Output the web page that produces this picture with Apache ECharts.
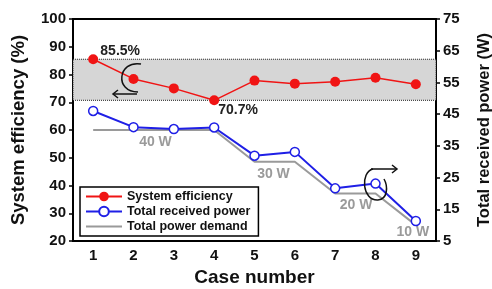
<!DOCTYPE html>
<html>
<head>
<meta charset="utf-8">
<style>
  html, body { margin: 0; padding: 0; background: #fff; }
  #chart { width: 492px; height: 289px; }
</style>
<script src="https://cdn.jsdelivr.net/npm/echarts@6/dist/echarts.min.js"></script>
</head>
<body>
<div id="chart"></div>
<script>
const cases = ['1', '2', '3', '4', '5', '6', '7', '8', '9'];
const efficiency = [85.5, 78.4, 75.0, 70.7, 77.8, 76.7, 77.4, 78.8, 76.5];
const receivedPower = [46.0, 40.9, 40.3, 40.8, 31.9, 33.1, 21.6, 23.1, 11.3];
const powerDemand = [40, 40, 40, 40, 30, 30, 20, 20, 10];
const bandLow = 70.7;
const bandHigh = 85.5;

const font = 'Liberation Sans, Arial, sans-serif';
const chart = echarts.init(document.getElementById('chart'));

const demandLabels = {
    1: { text: '40 W', offset: [22, 0] },
    4: { text: '30 W', offset: [19, 0] },
    6: { text: '20 W', offset: [21, 0] },
    8: { text: '10 W', offset: [-3, -5] }
};

const arrowStyle = { fill: null, stroke: '#111', lineWidth: 1.5 };
const tickFont = { fontSize: 15, fontWeight: 'bold', color: '#111' };

const option = {
    backgroundColor: '#ffffff',
    animation: false,
    textStyle: { fontFamily: font },
    grid: {
        left: 73,
        right: 56,
        top: 19,
        bottom: 48,
        outerBoundsMode: 'none',
        show: true,
        borderColor: '#000',
        borderWidth: 2
    },
    legend: {
        orient: 'vertical',
        left: 80,
        top: 187,
        itemGap: 2,
        itemWidth: 36,
        itemHeight: 12,
        padding: [3, 8, 3, 5],
        borderColor: '#000',
        borderWidth: 1.5,
        textStyle: { fontSize: 12.5, fontWeight: 'bold', color: '#111', fontFamily: font },
        data: [
            'System efficiency',
            'Total received power',
            { name: 'Total power demand', icon: 'path://M0,0 L36,0 L36,2 L0,2 Z' }
        ]
    },
    xAxis: {
        type: 'category',
        data: cases,
        name: 'Case number',
        nameLocation: 'middle',
        nameGap: 26,
        nameTextStyle: { fontSize: 19, fontWeight: 'bold', color: '#111' },
        axisLine: { lineStyle: { color: '#000', width: 2 } },
        axisTick: { alignWithLabel: true, length: 4, lineStyle: { color: '#000', width: 1.5 } },
        axisLabel: Object.assign({ margin: 7 }, tickFont),
        splitLine: { show: false }
    },
    yAxis: [{
        type: 'value',
        min: 20,
        max: 100,
        interval: 10,
        name: 'System efficiency (%)',
        nameLocation: 'middle',
        nameRotate: 90,
        nameGap: 45,
        nameTextStyle: { fontSize: 18.5, fontWeight: 'bold', color: '#111' },
        axisLine: { show: true, lineStyle: { color: '#000', width: 2 } },
        axisTick: { show: true, length: 4, lineStyle: { color: '#000', width: 1.5 } },
        axisLabel: Object.assign({ margin: 7 }, tickFont),
        splitLine: { show: false }
    }, {
        type: 'value',
        min: 5,
        max: 75,
        interval: 10,
        position: 'right',
        name: 'Total received power (W)',
        nameLocation: 'middle',
        nameRotate: 90,
        nameGap: 40,
        nameTextStyle: { fontSize: 16.5, fontWeight: 'bold', color: '#111' },
        axisLine: { show: true, lineStyle: { color: '#000', width: 2 } },
        axisTick: { show: true, length: 4, lineStyle: { color: '#000', width: 1.5 } },
        axisLabel: Object.assign({ margin: 7 }, tickFont),
        splitLine: { show: false }
    }],
    series: [{
        name: 'Total power demand',
        type: 'line',
        yAxisIndex: 1,
        symbol: 'circle',
        symbolSize: 0,
        z: 2,
        lineStyle: { color: '#9a9a9a', width: 2 },
        itemStyle: { color: '#9a9a9a' },
        data: powerDemand.map((v, i) => {
            const lab = demandLabels[i];
            if (!lab) return v;
            return {
                value: v,
                label: {
                    show: true,
                    position: 'bottom',
                    offset: lab.offset,
                    formatter: lab.text,
                    fontSize: 14,
                    fontWeight: 'bold',
                    color: '#9a9a9a'
                }
            };
        })
    }, {
        name: 'Total received power',
        type: 'line',
        yAxisIndex: 1,
        symbol: 'circle',
        symbolSize: 9,
        z: 3,
        lineStyle: { color: '#1f1fe6', width: 2 },
        itemStyle: { color: '#ffffff', borderColor: '#1f1fe6', borderWidth: 1.5 },
        data: receivedPower
    }, {
        name: 'System efficiency',
        type: 'line',
        yAxisIndex: 0,
        symbol: 'circle',
        symbolSize: 10,
        z: 4,
        lineStyle: { color: '#f01414', width: 1.5 },
        itemStyle: { color: '#f01414' },
        markArea: {
            silent: true,
            itemStyle: {
                color: '#d6d6d6',
                borderColor: '#222',
                borderWidth: 1,
                borderType: 'dotted'
            },
            data: [[{ yAxis: bandLow }, { yAxis: bandHigh }]]
        },
        data: efficiency.map((v, i) => {
            if (i === 0) {
                return { value: v, label: { show: true, position: 'top', offset: [27, 9], formatter: '85.5%', fontSize: 14, fontWeight: 'bold', color: '#222' } };
            }
            if (i === 3) {
                return { value: v, label: { show: true, position: 'right', offset: [-6, 10], formatter: '70.7%', fontSize: 14, fontWeight: 'bold', color: '#222' } };
            }
            return v;
        })
    }],
    graphic: [
        // left-pointing curl near the efficiency line
        { type: 'bezierCurve', z: 10, shape: { x1: 141, y1: 64, cpx1: 118, cpy1: 60, cpx2: 114, cpy2: 92, x2: 138, y2: 92 }, style: arrowStyle },
        { type: 'polyline', z: 10, shape: { points: [[137, 94], [113, 94]] }, style: arrowStyle },
        { type: 'polyline', z: 10, shape: { points: [[118, 90], [113, 94], [118, 98]] }, style: arrowStyle },
        // right-pointing curl near the power line
        { type: 'polyline', z: 10, shape: { points: [[371, 169], [397, 169]] }, style: arrowStyle },
        { type: 'polyline', z: 10, shape: { points: [[392, 165], [397, 169], [392, 173]] }, style: arrowStyle },
        { type: 'bezierCurve', z: 10, shape: { x1: 373, y1: 169, cpx1: 360, cpy1: 172, cpx2: 362, cpy2: 201, x2: 378, y2: 200 }, style: arrowStyle },
        { type: 'bezierCurve', z: 10, shape: { x1: 378, y1: 200, cpx1: 388, cpy1: 199, cpx2: 388, cpy2: 186, x2: 384, y2: 179 }, style: arrowStyle }
    ]
};

chart.setOption(option);
</script>
</body>
</html>
